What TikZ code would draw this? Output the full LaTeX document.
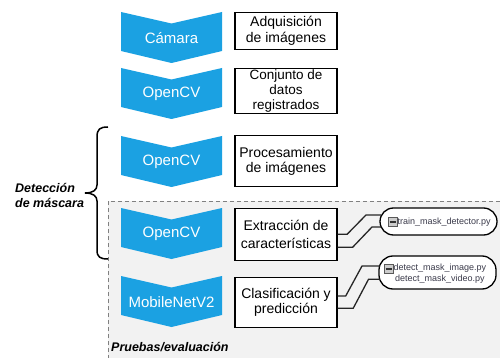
\documentclass[tikz,border=0pt]{standalone}
\usepackage{fontspec}
\setmainfont{Liberation Sans}
\usetikzlibrary{calc}
\definecolor{chevblue}{HTML}{1BA1E2}
\definecolor{regiongray}{HTML}{F2F2F2}
\definecolor{dashgray}{HTML}{808080}
\definecolor{pytext}{HTML}{3A3A4A}
\tikzset{
  chevfill/.style={fill=chevblue},
  chevtext/.style={text=white, font=\fontsize{15}{17}\selectfont, inner sep=0pt},
  stepbox/.style={draw=black, line width=1.4pt, fill=white, minimum width=102pt, inner sep=0pt, align=center, font=\fontsize{14}{16}\selectfont},
  pill/.style={draw=black, line width=1.3pt, fill=white, rounded corners=13.5pt, inner sep=0pt},
  pytxt/.style={text=pytext, font=\fontsize{9}{11}\selectfont, inner sep=0pt, align=center},
  iconbox/.style={draw=gray!70!black, line width=0.6pt, fill=gray!40, minimum width=9pt, minimum height=8.5pt, inner sep=0pt,
    path picture={\draw[black!80, line width=1.4pt] ([xshift=1.5pt]path picture bounding box.west) -- ([xshift=-1.5pt]path picture bounding box.east);}},
  link/.style={draw=black!85, line width=1.3pt},
  bracestyle/.style={draw=black, line width=1.5pt},
  sidelabel/.style={font=\fontsize{12.5}{15}\selectfont\bfseries\itshape, inner sep=0pt, align=left},
}
\newcommand\mychev[3]{%
  \fill[chevfill] (121,#1) -- (171.5,#1+11.5) -- (222,#1) -- (222,#1+39) -- (171.5,#1+51) -- (121,#1+39) -- cycle;
  \node[chevtext] (#2) at (171.5,#1+26) {#3};}
\begin{document}
\begin{tikzpicture}[x=1pt,y=-1pt]
\useasboundingbox (0,0) rectangle (500,358);
\fill[white] (0,0) rectangle (500,358);
% test region
\fill[regiongray] (108,201) rectangle (501,359);
\draw[dashgray, line width=1pt, dash pattern=on 4pt off 3pt] (108,359) -- (108,201) -- (501,201);
% chevrons
\mychev{12}{c1}{Cámara}
\mychev{68}{c2}{OpenCV}
\mychev{136}{c3}{OpenCV}
\mychev{208}{c4}{OpenCV}
\mychev{276}{c5}{MobileNetV2}
% boxes
\node[stepbox, minimum height=37pt] (b1) at (286,31.3) {Adquisición\\de imágenes};
\node[stepbox, minimum height=45pt, font=\fontsize{13.5}{15}\selectfont] (b2) at (286,90.8) {Conjunto de\\datos\\registrados};
\node[stepbox, minimum height=51pt, font=\fontsize{14}{15.5}\selectfont] (b3) at (286,161.2) {Procesamiento\\de imágenes};
\node[stepbox, minimum height=52pt, font=\fontsize{14}{17.5}\selectfont] (b4) at (286,234.2) {Extracción de\\características};
\node[stepbox, minimum height=50pt, font=\fontsize{14}{15.5}\selectfont] (b5) at (286,302.3) {Clasificación y\\predicción};
% pills
\node[pill, minimum width=117pt, minimum height=27pt] (p1) at (438.5,221.5) {};
\node[pill, minimum width=117pt, minimum height=33pt, rounded corners=14pt] (p2) at (437.5,272.5) {};
\node[iconbox] (i1) at (392.5,222) {};
\node[pytxt, anchor=west] (t1) at (397.5,222.5) {train\_mask\_detector.py};
\node[iconbox] (i2) at (388.5,269) {};
\node[pytxt, anchor=west] (t2) at (393.5,268.3) {detect\_mask\_image.py};
\node[pytxt, anchor=west] (t3) at (395,279.3) {detect\_mask\_video.py};
% connectors
\draw[link] (b4.east) -- ++(9.5,0) -- (366,215) -- (p1.west |- 0,215) -- ++(1.5,0);
\draw[link] ($(b4.east)+(0,13)$) -- ++(15,0) -- (372,227) -- (p1.west |- 0,227) -- ++(1.5,0);
\draw[link] ($(b5.east)+(0,-6.3)$) -- ++(8,0) -- (362,266) -- (p2.west |- 0,266) -- ++(1.5,0);
\draw[link] ($(b5.east)+(0,6)$) -- ++(15.5,0) -- (368.5,279.3) -- (p2.west |- 0,279.3) -- ++(1.5,0);
% brace
\draw[bracestyle] (108,127) .. controls (100,127) and (97,129) .. (97,137) -- (97,185)
  .. controls (97,190) and (93,193) .. (85,193) .. controls (93,193) and (97,196) .. (97,201)
  -- (97,250) .. controls (97,257) and (100,259) .. (108,259);
\node[sidelabel, anchor=west] (lab1) at (15,195.5) {Detección\\de máscara};
\node[sidelabel, anchor=west] (lab2) at (111,347) {Pruebas/evaluación};
\end{tikzpicture}
\end{document}
